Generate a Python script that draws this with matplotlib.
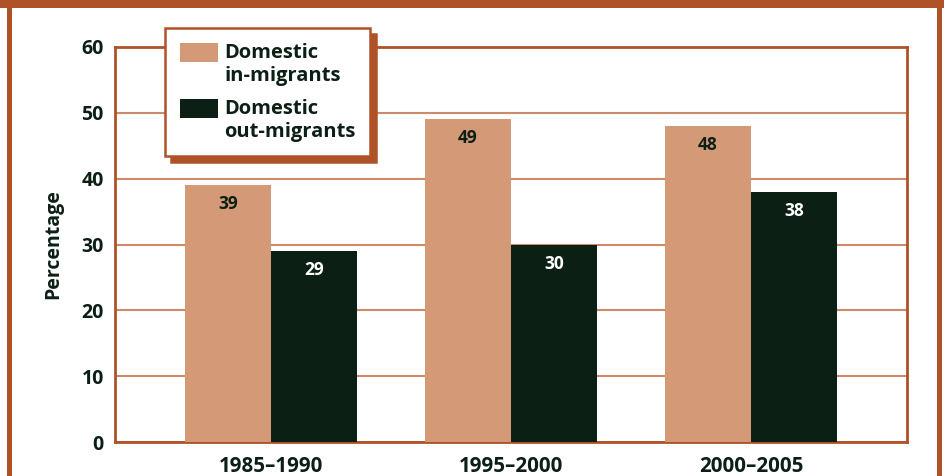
import matplotlib
matplotlib.use('Agg')
import matplotlib.pyplot as plt
import matplotlib.patches as mpatches
import numpy as np

# data ==========================================
periods = ['1985\u20131990', '1995\u20132000', '2000\u20132005']
in_migrants = [39, 49, 48]
out_migrants = [29, 30, 38]
series_names = ['Domestic\nin-migrants', 'Domestic\nout-migrants']
# ===============================================

rust = '#B05227'
grid_col = '#CD8A68'
tan = '#D49A78'
dark = '#0B1F14'

plt.rcParams['font.family'] = ['Open Sans', 'DejaVu Sans']
plt.rcParams['font.weight'] = 'bold'

fig = plt.figure(figsize=(9.44, 4.76), dpi=100)
ax = fig.add_axes([115/944, 34/476, 792/944, 395/476])

# outer frame
W, H = 944, 476
for (x0, y0, w, h) in [(0, 468, 944, 8), (7, 0, 5, 476), (937, 0, 5, 476)]:
    fig.patches.append(mpatches.Rectangle((x0/W, y0/H), w/W, h/H, transform=fig.transFigure,
                                          facecolor=rust, edgecolor='none', zorder=0))

x = np.arange(len(periods))
bw = 0.358
b1 = ax.bar(x - bw/2, in_migrants, bw, color=tan, label=series_names[0], zorder=3)
b2 = ax.bar(x + bw/2, out_migrants, bw, color=dark, label=series_names[1], zorder=3)

for rect, v in zip(b1, in_migrants):
    ax.annotate(str(v), (rect.get_x() + rect.get_width()/2, v), xytext=(0, -13.7),
                textcoords='offset points', ha='center', va='center',
                fontsize=12.5, fontweight='bold', color=dark, zorder=4)
for rect, v in zip(b2, out_migrants):
    ax.annotate(str(v), (rect.get_x() + rect.get_width()/2, v), xytext=(0, -13.7),
                textcoords='offset points', ha='center', va='center',
                fontsize=12.5, fontweight='bold', color='white', zorder=4)

ax.set_xlim(-0.65, 2.65)
ax.set_ylim(0, 60)
ax.set_yticks(range(0, 61, 10))
ax.set_xticks(x)
ax.set_xticklabels(periods)
ax.grid(axis='y', color=grid_col, linewidth=1.5, zorder=1)
ax.set_axisbelow(True)
for s in ax.spines.values():
    s.set_color(rust)
    s.set_linewidth(2)
ax.tick_params(length=0, labelsize=14, colors=dark)
ax.tick_params(axis='x', labelsize=14.8, pad=10)
ax.tick_params(axis='y', pad=8)
ax.set_ylabel('Percentage', fontsize=14, fontweight='bold', color=dark, labelpad=13)

leg = ax.legend(loc='upper left', bbox_to_anchor=(50/792, 414/395), borderaxespad=0,
                fancybox=False, frameon=True, edgecolor=rust, framealpha=1, fontsize=14.5,
                labelcolor=dark, handlelength=1.9, handleheight=1.1,
                borderpad=0.72, labelspacing=0.65, handletextpad=0.32,
                shadow={'ox': 4.3, 'oy': -4.3, 'color': rust, 'alpha': 1})
leg.get_frame().set_linewidth(1.8)
leg.set_zorder(10)
# put the colour swatch level with the first line of each label
for col in leg._legend_handle_box.get_children():
    for entry in col.get_children():
        entry.align = 'top'

fig.savefig('out.png', dpi=100)
